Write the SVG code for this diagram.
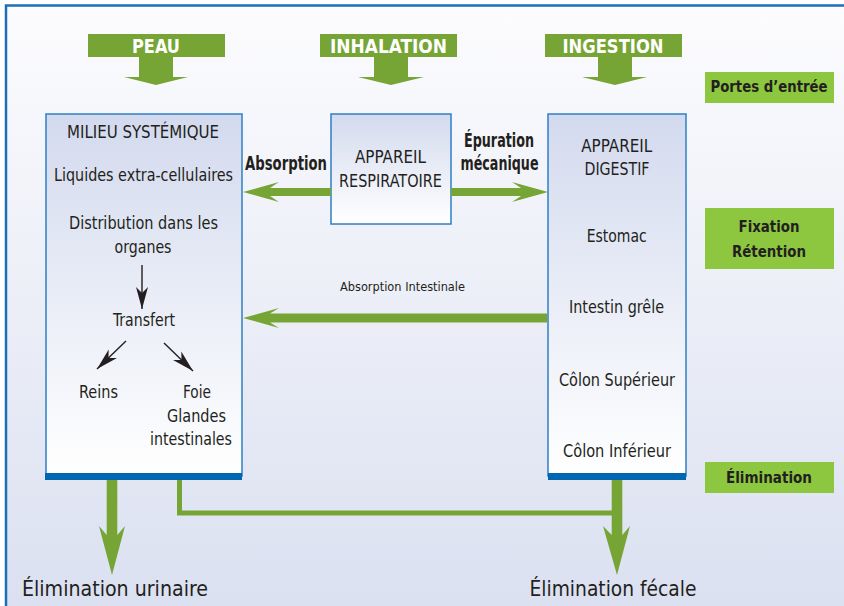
<svg xmlns="http://www.w3.org/2000/svg" width="844" height="606" viewBox="0 0 844 606">
  <defs>
    <linearGradient id="bg" x1="0" y1="0" x2="0" y2="1">
      <stop offset="0" stop-color="#fcfcfe"/>
      <stop offset="0.5" stop-color="#e9ecf6"/>
      <stop offset="1" stop-color="#d5dcef"/>
    </linearGradient>
    <linearGradient id="box" x1="0" y1="0" x2="0" y2="1">
      <stop offset="0" stop-color="#d3daee"/>
      <stop offset="1" stop-color="#ffffff"/>
    </linearGradient>
    <marker id="ah" viewBox="-24 -7 26 14" refX="0" refY="0" markerWidth="26" markerHeight="14" markerUnits="userSpaceOnUse" orient="auto">
      <path d="M0,0 L-22,-6 L-16,0 L-22,6 Z" fill="#231f20"/>
    </marker>
    <style>
      .t{font-family:"Liberation Sans Narrow","DejaVu Sans Condensed","Liberation Sans",Arial,sans-serif;font-size:18px;fill:#231f20;text-anchor:middle}
      .s{font-size:13px}
      .b{font-weight:bold;font-size:20px}
      .lb{font-weight:bold;font-size:16px}
      .w{font-weight:bold;font-size:20px;fill:#ffffff}
      .big{font-size:22px}
      .banner{fill:#76a535}
      .label{fill:#8dc63f}
      .node{fill:url(#box);stroke:#2f7fc4;stroke-width:1.5}
      .bar{fill:#0066b2}
      .g{fill:#76a535}
      .blk{stroke:#231f20;stroke-width:1.4;fill:none;marker-end:url(#ah)}
    </style>
  </defs>

  <rect x="0" y="0" width="844" height="606" fill="#ffffff"/>
  <rect x="6" y="5.5" width="900" height="700" fill="url(#bg)" stroke="#1c6fb7" stroke-width="2.5"/>

  <!-- Entry banners -->
  <g id="peau">
    <rect class="banner" x="88" y="34" width="137" height="23"/>
    <polygon class="banner" points="139,57 173,57 173,77 188,77 156,85 124,77 139,77"/>
    <text class="t w" x="156" y="53" textLength="48" lengthAdjust="spacingAndGlyphs">PEAU</text>
  </g>
  <g id="inhalation">
    <rect class="banner" x="320" y="34" width="137" height="23"/>
    <polygon class="banner" points="374,57 408,57 408,77 424,77 391,85 358,77 374,77"/>
    <text class="t w" x="388.5" y="53" textLength="117" lengthAdjust="spacingAndGlyphs">INHALATION</text>
  </g>
  <g id="ingestion">
    <rect class="banner" x="545" y="34" width="137" height="23"/>
    <polygon class="banner" points="598,57 632,57 632,77 647,77 615,85 582,77 598,77"/>
    <text class="t w" x="613" y="53" textLength="101" lengthAdjust="spacingAndGlyphs">INGESTION</text>
  </g>

  <!-- Right-side labels -->
  <g id="portes-entree">
    <rect class="label" x="705" y="72" width="129" height="31"/>
    <text class="t lb" x="769" y="92" textLength="117" lengthAdjust="spacingAndGlyphs">Portes d’entrée</text>
  </g>
  <g id="fixation-retention">
    <rect class="label" x="705" y="208" width="129" height="61"/>
    <text class="t lb" x="769" y="232" textLength="61" lengthAdjust="spacingAndGlyphs">Fixation</text>
    <text class="t lb" x="769" y="257" textLength="74" lengthAdjust="spacingAndGlyphs">Rétention</text>
  </g>
  <g id="elimination-label">
    <rect class="label" x="705" y="462" width="129" height="31"/>
    <text class="t lb" x="769" y="483" textLength="86" lengthAdjust="spacingAndGlyphs">Élimination</text>
  </g>

  <!-- Milieu systémique -->
  <g id="milieu-systemique">
    <rect class="node" x="46" y="114" width="196" height="362"/>
    <rect class="bar" x="45" y="473" width="197" height="7"/>
    <text class="t" x="143" y="138" textLength="152" lengthAdjust="spacingAndGlyphs">MILIEU SYSTÉMIQUE</text>
    <text class="t" x="143.5" y="181" textLength="179" lengthAdjust="spacingAndGlyphs">Liquides extra-cellulaires</text>
    <text class="t" x="143.5" y="229" textLength="149" lengthAdjust="spacingAndGlyphs">Distribution dans les</text>
    <text class="t" x="143" y="253" textLength="57" lengthAdjust="spacingAndGlyphs">organes</text>
    <text class="t" x="144" y="326" textLength="62" lengthAdjust="spacingAndGlyphs">Transfert</text>
    <text class="t" x="98.5" y="398" textLength="39" lengthAdjust="spacingAndGlyphs">Reins</text>
    <text class="t" x="197" y="398" textLength="28" lengthAdjust="spacingAndGlyphs">Foie</text>
    <text class="t" x="196.5" y="422" textLength="59" lengthAdjust="spacingAndGlyphs">Glandes</text>
    <text class="t" x="191" y="445" textLength="82" lengthAdjust="spacingAndGlyphs">intestinales</text>
    <line class="blk" x1="142" y1="265" x2="142" y2="309"/>
    <line class="blk" x1="126" y1="341" x2="97" y2="369"/>
    <line class="blk" x1="164" y1="343" x2="193" y2="371"/>
  </g>

  <!-- Appareil respiratoire -->
  <g id="appareil-respiratoire">
    <rect class="node" x="331" y="114" width="120" height="110"/>
    <text class="t" x="390.5" y="163" textLength="71" lengthAdjust="spacingAndGlyphs">APPAREIL</text>
    <text class="t" x="390.5" y="187" textLength="103" lengthAdjust="spacingAndGlyphs">RESPIRATOIRE</text>
  </g>

  <!-- Appareil digestif -->
  <g id="appareil-digestif">
    <rect class="node" x="548" y="114" width="138" height="362"/>
    <rect class="bar" x="548" y="473" width="138" height="7"/>
    <text class="t" x="616.7" y="152" textLength="71" lengthAdjust="spacingAndGlyphs">APPAREIL</text>
    <text class="t" x="617" y="175" textLength="65" lengthAdjust="spacingAndGlyphs">DIGESTIF</text>
    <text class="t" x="616.7" y="242" textLength="60" lengthAdjust="spacingAndGlyphs">Estomac</text>
    <text class="t" x="616.5" y="313" textLength="95" lengthAdjust="spacingAndGlyphs">Intestin grêle</text>
    <text class="t" x="617" y="386" textLength="116" lengthAdjust="spacingAndGlyphs">Côlon Supérieur</text>
    <text class="t" x="617" y="457" textLength="108" lengthAdjust="spacingAndGlyphs">Côlon Inférieur</text>
  </g>

  <!-- Outputs -->
  <g id="elimination-urinaire">
    <text class="t big" x="115" y="596" textLength="186" lengthAdjust="spacingAndGlyphs">Élimination urinaire</text>
  </g>
  <g id="elimination-fecale">
    <text class="t big" x="613" y="596" textLength="167" lengthAdjust="spacingAndGlyphs">Élimination fécale</text>
  </g>

  <!-- Connectors -->
  <g id="connectors">
    <!-- Absorption (respiratoire -> milieu) -->
    <polygon class="g" points="243,192 279,182 270,188 331,188 331,196 270,196 279,202"/>
    <text class="t b" x="286" y="170" textLength="82" lengthAdjust="spacingAndGlyphs">Absorption</text>
    <!-- Épuration mécanique (respiratoire -> digestif) -->
    <polygon class="g" points="548,192 512,182 521,188 451,188 451,196 521,196 512,202"/>
    <text class="t b" x="499" y="147" textLength="70" lengthAdjust="spacingAndGlyphs">Épuration</text>
    <text class="t b" x="499.5" y="170" textLength="78" lengthAdjust="spacingAndGlyphs">mécanique</text>
    <!-- Absorption intestinale (digestif -> milieu) -->
    <polygon class="g" points="243,318 279,308 270,313.5 547,313.5 547,322.5 270,322.5 279,328"/>
    <text class="t s" x="402.5" y="291" textLength="125" lengthAdjust="spacingAndGlyphs">Absorption Intestinale</text>
    <!-- Élimination urinaire -->
    <polygon class="g" points="106.7,480 117.3,480 117.3,535 125,526 112,575 99,526 106.7,535"/>
    <!-- Milieu -> fécale -->
    <polyline points="179.5,480 179.5,513 614,513" fill="none" stroke="#76a535" stroke-width="5"/>
    <!-- Élimination fécale -->
    <polygon class="g" points="611.7,480 622.3,480 622.3,535 630,526 617,575 603,526 611.7,535"/>
  </g>
</svg>
